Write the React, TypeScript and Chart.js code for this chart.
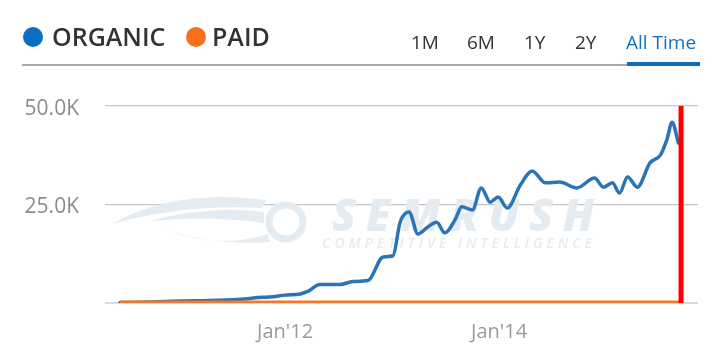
import React, { useEffect, useRef } from "react";
import { Chart, registerables } from "chart.js";

Chart.register(...registerables);

// months counted from Jan 2010
const organicMonths = [5.5, 8.9, 12.2, 15.6, 19.5, 21, 22.3, 24, 25.7, 26.6, 27.9, 30.2, 31.6, 33.3, 35, 36.1, 36.9, 37.9, 38.9, 40, 41, 41.9, 43.1, 43.8, 45, 46, 47, 47.9, 48.9, 50.4, 51.7, 53.2, 54.8, 56.7, 58.7, 59.7, 60.7, 61.5, 62.4, 63.5, 64.9, 66.1, 66.8, 67.4, 68.1];
const organicVisits = [100, 250, 500, 650, 1000, 1400, 1500, 2000, 2300, 3000, 4700, 4700, 5450, 5700, 11700, 12000, 20500, 23100, 17500, 19300, 20500, 17800, 21300, 24400, 23600, 29200, 25600, 26900, 24100, 30000, 33500, 30500, 30700, 29200, 31700, 29400, 30500, 27900, 32000, 29400, 35500, 37600, 41400, 45900, 40600];

const paidMonths = [5.5, 12, 24, 36, 48, 60, 68.3];
const paidVisits = [300, 300, 300, 300, 300, 300, 300];

const markerMonth = [68.4, 68.4];
const markerValues = [0, 50000];

const xTickMonths = [24, 48];
const xTickLabels = ["Jan'12", "Jan'14"];
const yTickValues = [0, 25000, 50000];
const yTickLabels = ["", "25.0K", "50.0K"];

const legendItems = ["ORGANIC", "PAID"];
const rangeTabs = ["1M", "6M", "1Y", "2Y", "All Time"];

const FONT = '"Open Sans", "Noto Sans", sans-serif';
const WM = "#e4ecf2";

const watermarkPlugin = {
  id: "watermark",
  beforeDatasetsDraw(chart: any) {
    const ctx = chart.ctx as CanvasRenderingContext2D;
    ctx.save();
    ctx.fillStyle = WM;
    ctx.strokeStyle = WM;
    // logo ring
    ctx.lineWidth = 7;
    ctx.beginPath();
    ctx.arc(286, 222, 17, 0, Math.PI * 2);
    ctx.stroke();
    // swooshes
    ctx.beginPath();
    ctx.moveTo(112, 224);
    ctx.quadraticCurveTo(175, 188, 266, 200);
    ctx.lineTo(262, 208);
    ctx.quadraticCurveTo(185, 204, 112, 224);
    ctx.fill();
    ctx.beginPath();
    ctx.moveTo(150, 221);
    ctx.quadraticCurveTo(210, 205, 264, 212);
    ctx.lineTo(264, 223);
    ctx.quadraticCurveTo(205, 215, 150, 221);
    ctx.fill();
    ctx.beginPath();
    ctx.moveTo(165, 230);
    ctx.quadraticCurveTo(220, 250, 268, 234);
    ctx.lineTo(270, 242);
    ctx.quadraticCurveTo(215, 246, 165, 230);
    ctx.fill();
    // text
    ctx.font = `italic 800 44px ${FONT}`;
    const w1 = ctx.measureText("SEMRUSH").width;
    (ctx as any).letterSpacing = `${Math.max(0, (272 - w1) / 7)}px`;
    ctx.textBaseline = "alphabetic";
    ctx.fillText("SEMRUSH", 332, 231);
    (ctx as any).letterSpacing = "0px";
    ctx.font = `italic 600 14px ${FONT}`;
    const w2 = ctx.measureText("COMPETITIVE INTELLIGENCE").width;
    (ctx as any).letterSpacing = `${Math.max(0, (274 - w2) / 24)}px`;
    ctx.fillText("COMPETITIVE INTELLIGENCE", 322, 248);
    ctx.restore();
  },
};

export default function App() {
  const canvasRef = useRef<HTMLCanvasElement | null>(null);

  useEffect(() => {
    if (!canvasRef.current) return;
    const chart = new Chart(canvasRef.current, {
      type: "line",
      data: {
        datasets: [
          {
            label: "marker",
            data: markerMonth.map((m, i) => ({ x: m, y: markerValues[i] })),
            borderColor: "#ff0000",
            borderWidth: 5,
            pointRadius: 0,
            tension: 0,
            borderCapStyle: "butt",
          },
          {
            label: legendItems[1],
            data: paidMonths.map((m, i) => ({ x: m, y: paidVisits[i] })),
            borderColor: "#f47a2b",
            borderWidth: 2.5,
            pointRadius: 0,
            tension: 0,
          },
          {
            label: legendItems[0],
            data: organicMonths.map((m, i) => ({ x: m, y: organicVisits[i] })),
            borderColor: "#2b74b8",
            borderWidth: 3.5,
            pointRadius: 0,
            cubicInterpolationMode: "monotone",
            borderCapStyle: "round",
            borderJoinStyle: "round",
          },
        ],
      },
      options: {
        animation: false,
        responsive: true,
        maintainAspectRatio: false,
        layout: { padding: { top: 106, right: 23, left: 0, bottom: 0 } },
        plugins: { legend: { display: false }, tooltip: { enabled: false } },
        scales: {
          x: {
            type: "linear",
            min: 3.81,
            max: 70.3,
            afterBuildTicks: (axis: any) => {
              axis.ticks = xTickMonths.map((v) => ({ value: v }));
            },
            afterFit: (axis: any) => {
              axis.height = 58;
            },
            grid: { display: false, drawTicks: false },
            border: { display: false },
            ticks: {
              padding: 17,
              color: "#9a9a9a",
              font: { family: FONT, size: 20 },
              maxRotation: 0,
              autoSkip: false,
              callback: (v: any) => {
                const i = xTickMonths.indexOf(Number(v));
                return i >= 0 ? xTickLabels[i] : "";
              },
            },
          },
          y: {
            type: "linear",
            min: 0,
            max: 50000,
            afterBuildTicks: (axis: any) => {
              axis.ticks = yTickValues.map((v) => ({ value: v }));
            },
            afterFit: (axis: any) => {
              axis.width = 105;
            },
            grid: {
              drawTicks: false,
              color: (c: any) => (c.tick && c.tick.value === 0 ? "#d3dde8" : "#c6c6c6"),
              lineWidth: (c: any) => (c.tick && c.tick.value === 0 ? 2 : 1.2),
            },
            border: { display: false },
            ticks: {
              padding: 26,
              labelOffset: 3,
              color: "#8c8c8c",
              font: { family: FONT, size: 21 },
              callback: (v: any) => {
                const i = yTickValues.indexOf(Number(v));
                return i >= 0 ? yTickLabels[i] : "";
              },
            },
          },
        },
      },
      plugins: [watermarkPlugin],
    } as any);
    return () => chart.destroy();
  }, []);

  const legendColors = ["#0a6fc2", "#f96f1a"];
  const legendDotX = [23, 186];
  const legendTextX = [52, 212];
  const tabX = [411, 467, 524, 575, 626];

  return (
    <div style={{ position: "absolute", left: 0, top: 0, width: 721, height: 361, background: "#fff", overflow: "hidden" }}>
      <canvas ref={canvasRef} style={{ position: "absolute", left: 0, top: 0, width: 721, height: 361 }} />
      <div style={{ position: "absolute", left: 22, top: 64, width: 678, height: 2, background: "#a9a9a9" }} />
      <div style={{ position: "absolute", left: 627, top: 62, width: 73, height: 4, background: "#0e6fc0" }} />
      {legendItems.map((t, i) => (
        <React.Fragment key={t}>
          <div style={{ position: "absolute", left: legendDotX[i], top: 27, width: 20, height: 20, borderRadius: 10, background: legendColors[i] }} />
          <div style={{ position: "absolute", left: legendTextX[i], top: 24, fontFamily: FONT, fontWeight: 600, fontSize: 25, lineHeight: "25px", color: "#333", whiteSpace: "nowrap" }}>{t}</div>
        </React.Fragment>
      ))}
      {rangeTabs.map((t, i) => (
        <div key={t} style={{ position: "absolute", left: tabX[i], top: 33, fontFamily: FONT, fontSize: 19, lineHeight: "19px", color: i === rangeTabs.length - 1 ? "#1370c0" : "#333", whiteSpace: "nowrap" }}>{t}</div>
      ))}
    </div>
  );
}
